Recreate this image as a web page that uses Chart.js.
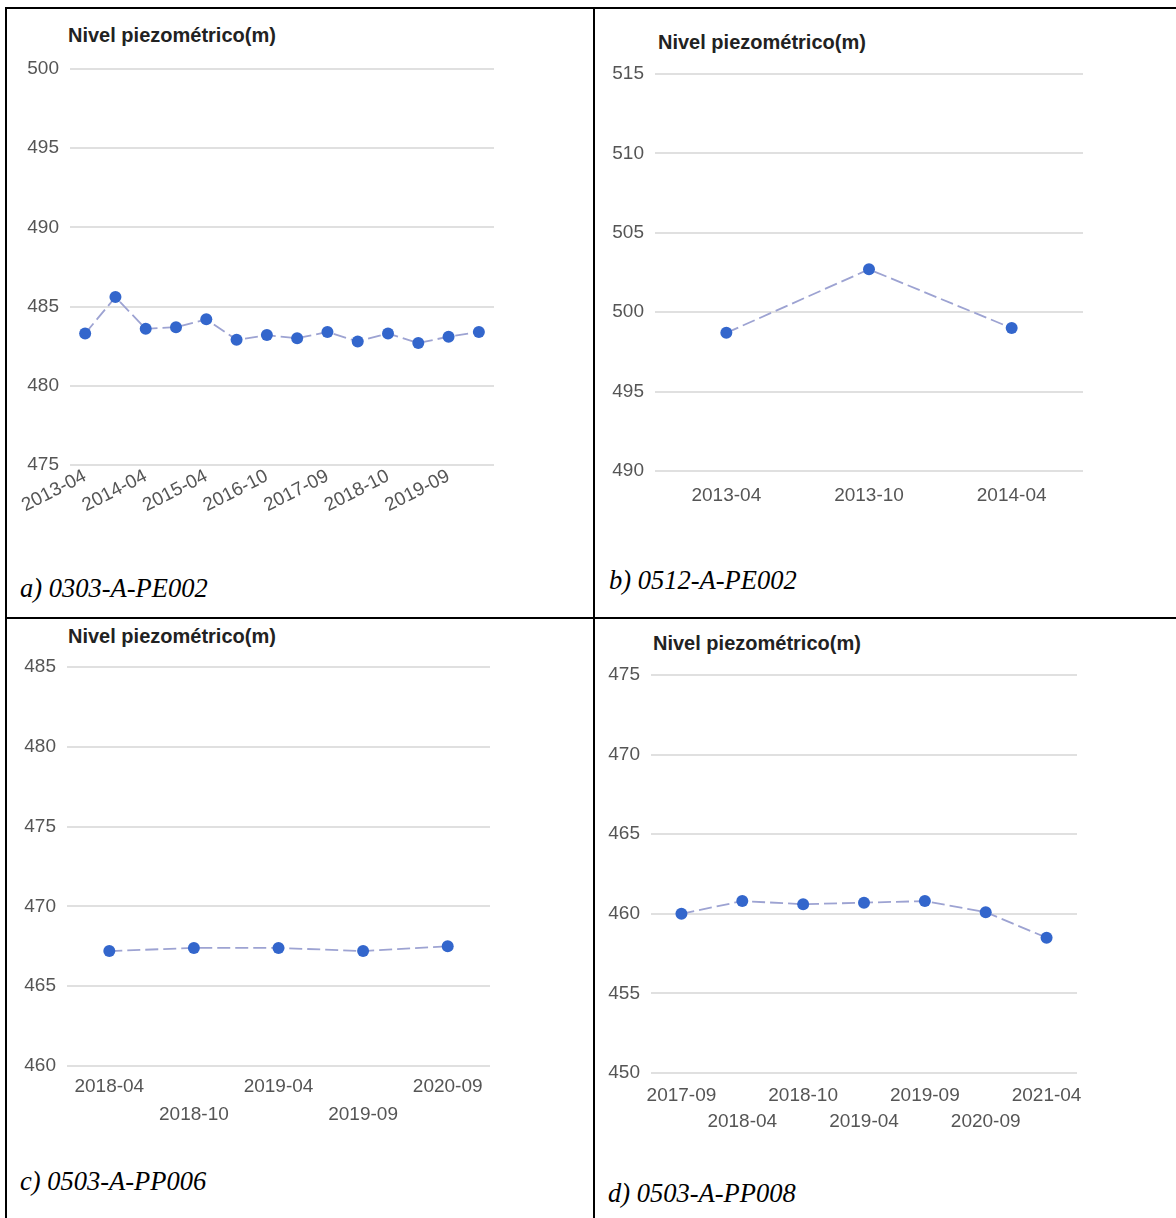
<!DOCTYPE html>
<html>
<head>
<meta charset="utf-8">
<script src="https://cdn.jsdelivr.net/npm/chart.js@4.4.1/dist/chart.umd.min.js"></script>
<style>
  body { margin: 0; width: 1176px; height: 1218px; background: #fff; position: relative; overflow: hidden;
         font-family: 'Liberation Sans', Arial, sans-serif; }
  .rule { position: absolute; background: #000; z-index: 2; }
  canvas { position: absolute; }
  .title { position: absolute; font-weight: bold; font-size: 20px; line-height: 20px; color: #222; white-space: nowrap; }
  .caption { position: absolute; font-family: 'Liberation Serif', 'Times New Roman', serif; font-style: italic;
             font-size: 26.5px; line-height: 26px; color: #000; white-space: nowrap; }
</style>
</head>
<body>
<div class="rule" style="left:5px;top:7px;width:1171px;height:2px"></div>
<div class="rule" style="left:5px;top:7px;width:2px;height:1211px"></div>
<div class="rule" style="left:593px;top:7px;width:2px;height:1211px"></div>
<div class="rule" style="left:5px;top:617px;width:1171px;height:2px"></div>

<div class="title" style="left:68px;top:25px">Nivel piezométrico(m)</div>
<div class="title" style="left:658px;top:32px">Nivel piezométrico(m)</div>
<div class="title" style="left:68px;top:626px">Nivel piezométrico(m)</div>
<div class="title" style="left:653px;top:633px">Nivel piezométrico(m)</div>

<canvas id="chartA" width="534" height="486" style="left:0px;top:49px"></canvas>
<canvas id="chartB" width="526" height="467" style="left:597px;top:54px"></canvas>
<canvas id="chartC" width="530" height="489" style="left:0px;top:647px"></canvas>
<canvas id="chartD" width="520" height="488" style="left:597px;top:655px"></canvas>

<div class="caption" style="left:20px;top:575px">a) 0303-A-PE002</div>
<div class="caption" style="left:609px;top:567px">b) 0512-A-PE002</div>
<div class="caption" style="left:20px;top:1168px">c) 0503-A-PP006</div>
<div class="caption" style="left:608px;top:1180px">d) 0503-A-PP008</div>

<script>
// a) 0303-A-PE002
const datesA = ['2013-04', '2013-10', '2014-04', '2014-10', '2015-04', '2015-10', '2016-10',
                '2017-04', '2017-09', '2018-04', '2018-10', '2019-04', '2019-09', '2020-09']
const levelsA = [483.3, 485.6, 483.6, 483.7, 484.2, 482.9, 483.2, 483.0, 483.4, 482.8, 483.3, 482.7, 483.1, 483.4]
const yRangeA = [475, 500]

// b) 0512-A-PE002
const datesB = ['2013-04', '2013-10', '2014-04']
const levelsB = [498.7, 502.7, 499.0]
const yRangeB = [490, 515]

// c) 0503-A-PP006
const datesC = ['2018-04', '2018-10', '2019-04', '2019-09', '2020-09']
const levelsC = [467.2, 467.4, 467.4, 467.2, 467.5]
const yRangeC = [460, 485]

// d) 0503-A-PP008
const datesD = ['2017-09', '2018-04', '2018-10', '2019-04', '2019-09', '2020-09', '2021-04']
const levelsD = [460.0, 460.8, 460.6, 460.7, 460.8, 460.1, 458.5]
const yRangeD = [450, 475]

const STEP = 5
const POINT_COLOR = '#3366cc'
const LINE_COLOR = '#9da3d2'
const GRID_COLOR = '#e0e0e0'
const TICK_COLOR = '#555'
const TICK_FONT = { family: "'Liberation Sans', Arial, sans-serif", size: 19 }

function piezoChart(id, labels, values, yRange, cfg) {
  const ctx = document.getElementById(id).getContext('2d')
  return new Chart(ctx, {
    type: 'line',
    data: {
      labels: labels,
      datasets: [{
        data: values,
        borderColor: LINE_COLOR,
        borderWidth: 1.8,
        borderDash: [13, 5],
        pointRadius: 6,
        pointBackgroundColor: POINT_COLOR,
        pointBorderColor: POINT_COLOR,
        pointBorderWidth: 0,
        tension: 0,
      }],
    },
    options: {
      responsive: false,
      animation: false,
      layout: { padding: { top: cfg.padTop, right: cfg.padRight, left: 0, bottom: 0 } },
      plugins: { legend: { display: false }, tooltip: { enabled: false } },
      scales: {
        x: {
          offset: true,
          grid: { display: false },
          border: { display: false },
          ticks: {
            autoSkip: false,
            minRotation: cfg.rotation,
            maxRotation: cfg.rotation,
            padding: cfg.xPad,
            color: TICK_COLOR,
            font: { ...TICK_FONT, lineHeight: cfg.lineHeight || 1.2 },
            callback: cfg.xLabel || ((v, i) => labels[i]),
          },
          afterFit: scale => {
            scale.height = cfg.xHeight
            scale.paddingLeft = 0
            scale.paddingRight = 0
          },
        },
        y: {
          min: yRange[0],
          max: yRange[1],
          grid: { color: GRID_COLOR, lineWidth: 2, drawTicks: false },
          border: { display: false },
          ticks: { stepSize: STEP, padding: 11, color: TICK_COLOR, font: TICK_FONT },
          afterFit: scale => {
            scale.width = cfg.yWidth
            scale.paddingTop = 0
            scale.paddingBottom = 0
          },
        },
      },
    },
  })
}

// every other label hidden (a) or pushed to a second row (c, d)
const everyOther = labels => (v, i) => i % 2 === 0 ? labels[i] : ''
const staggered = labels => (v, i) => i % 2 === 0 ? labels[i] : ['', labels[i]]

piezoChart('chartA', datesA, levelsA, yRangeA,
  { padTop: 20, padRight: 40, yWidth: 70, xHeight: 70, rotation: 27, xPad: -8, xLabel: everyOther(datesA) })
piezoChart('chartB', datesB, levelsB, yRangeB,
  { padTop: 20, padRight: 40, yWidth: 58, xHeight: 50, rotation: 0, xPad: 5 })
piezoChart('chartC', datesC, levelsC, yRangeC,
  { padTop: 20, padRight: 40, yWidth: 67, xHeight: 70, rotation: 0, xPad: -1, lineHeight: 1.45, xLabel: staggered(datesC) })
piezoChart('chartD', datesD, levelsD, yRangeD,
  { padTop: 20, padRight: 40, yWidth: 54, xHeight: 70, rotation: 0, xPad: 2, lineHeight: 1.35, xLabel: staggered(datesD) })
</script>
</body>
</html>
